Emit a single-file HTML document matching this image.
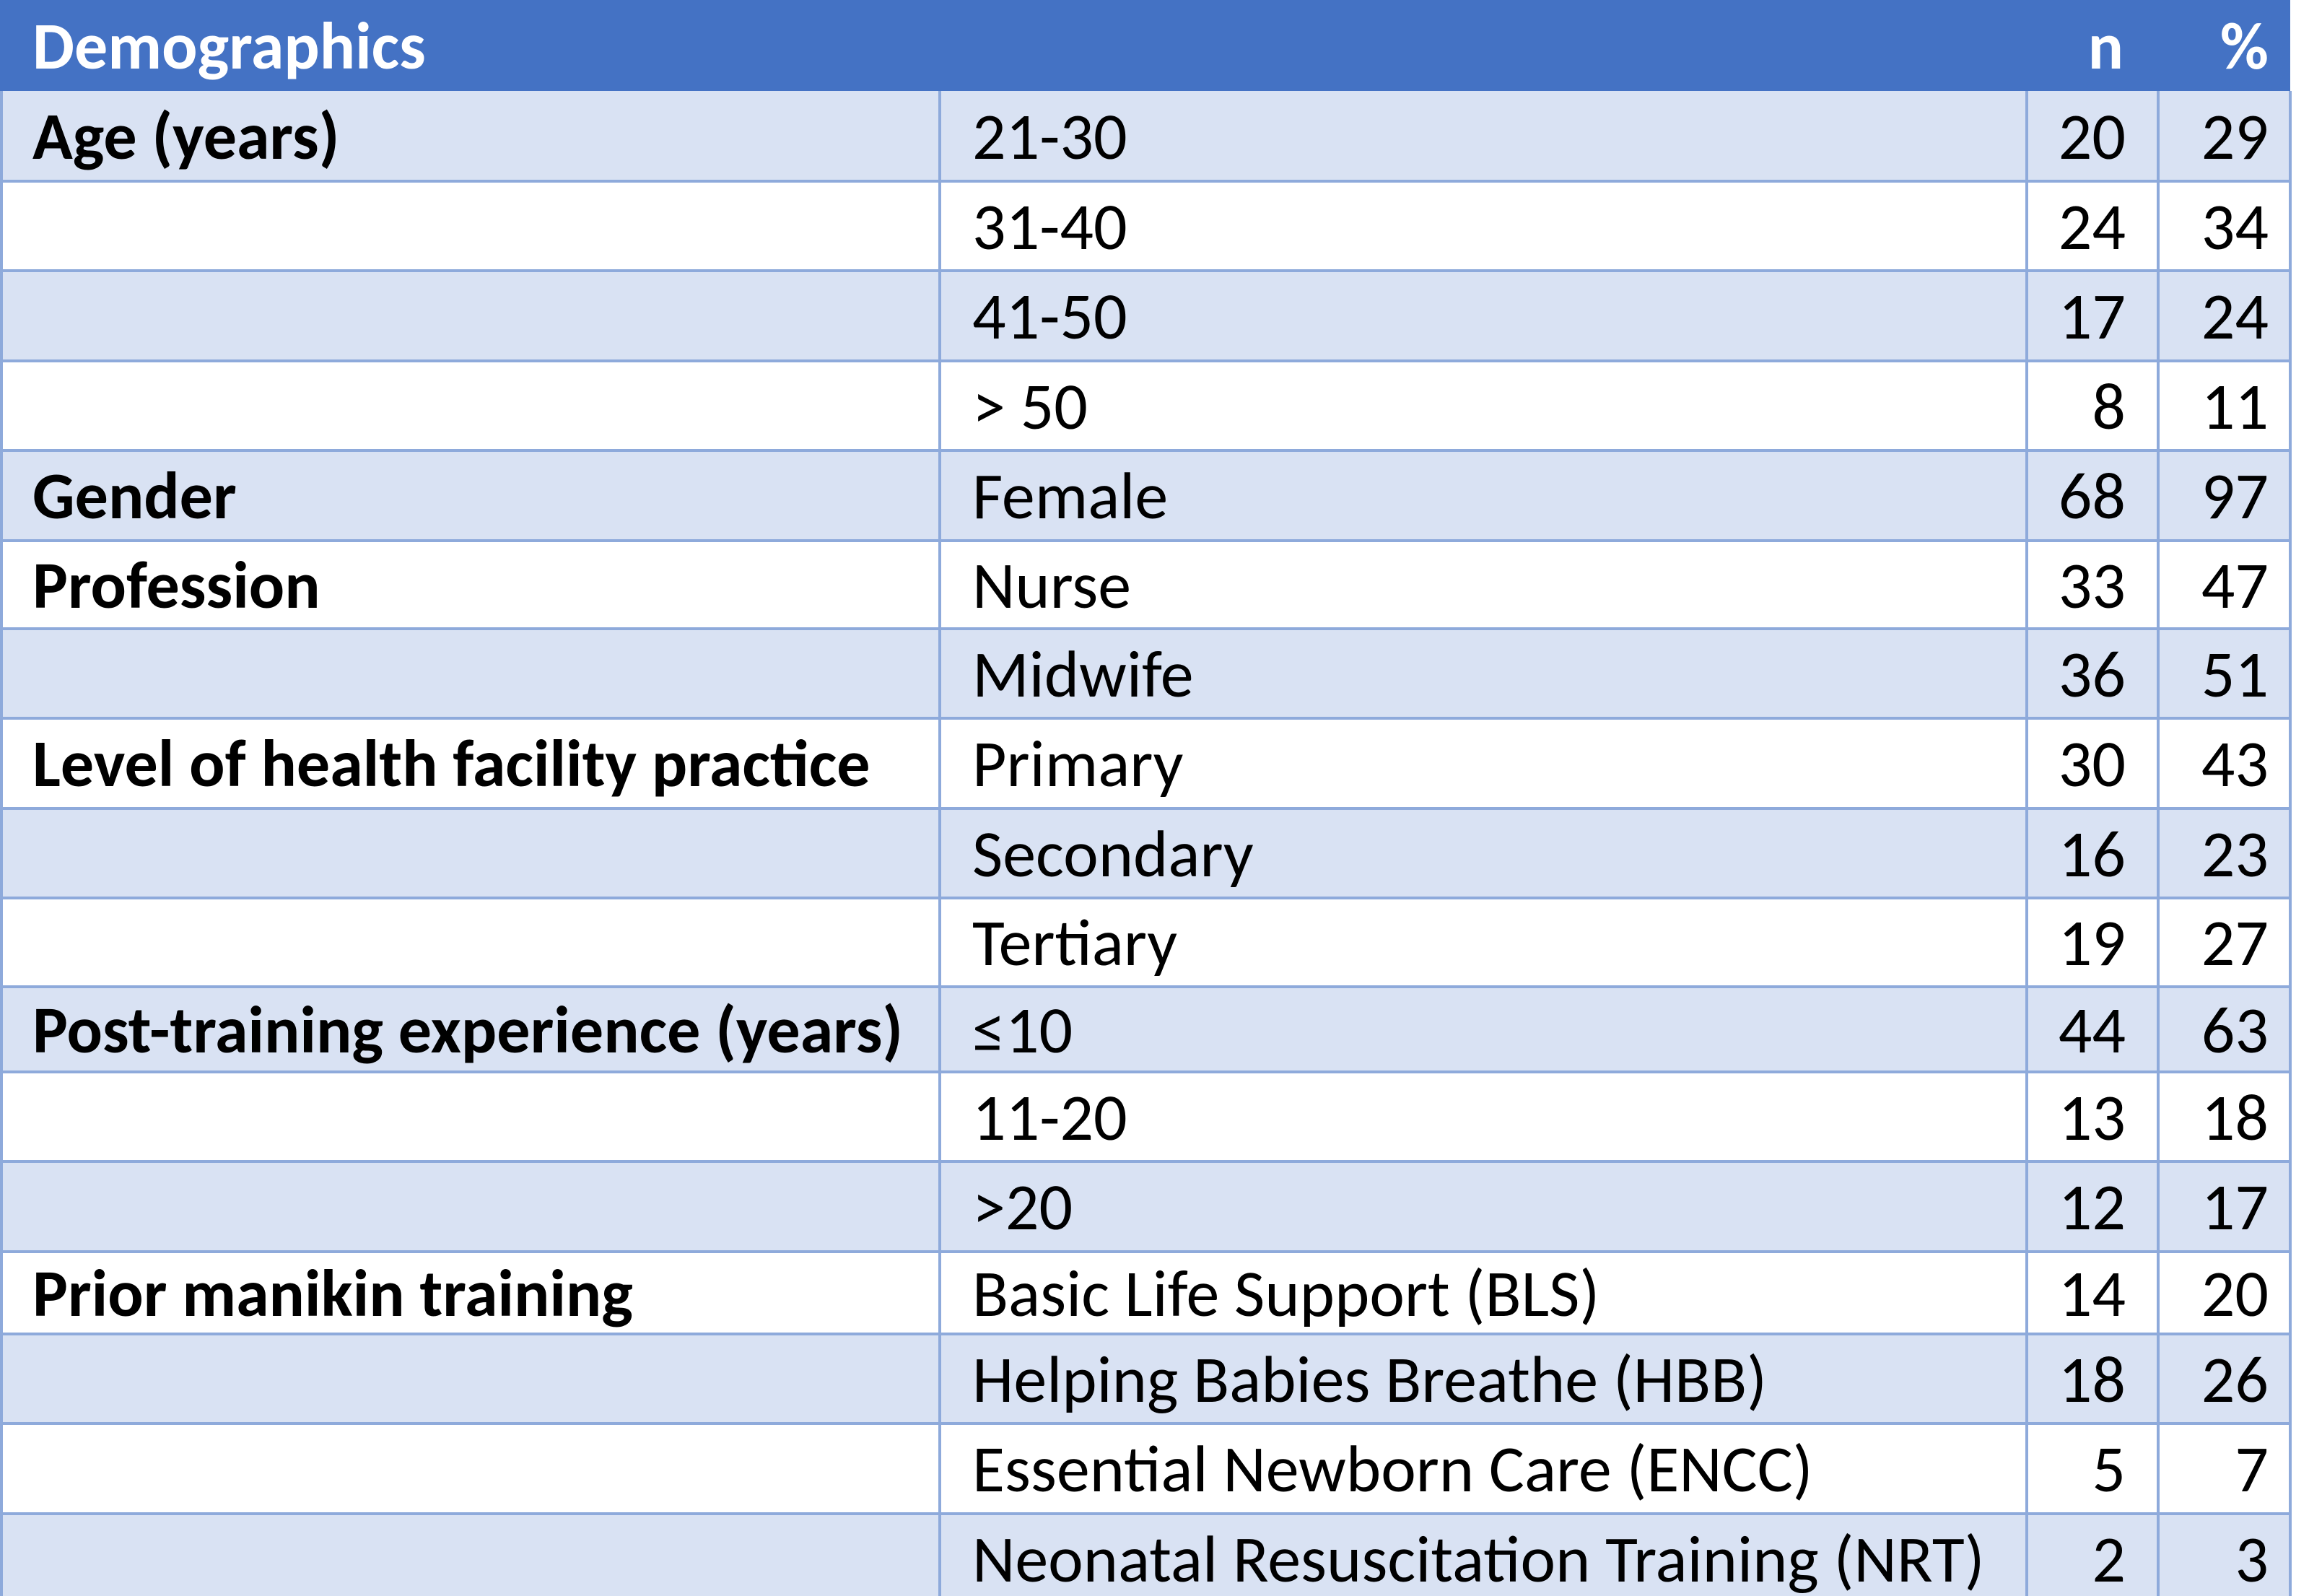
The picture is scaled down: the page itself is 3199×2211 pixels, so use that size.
<!DOCTYPE html>
<html><head><meta charset="utf-8"><style>
html,body{margin:0;padding:0;background:#fff;width:3199px;height:2211px;overflow:hidden;position:relative}
.c{position:absolute;box-sizing:border-box;font-family:"Carlito","Liberation Sans",sans-serif;font-size:92px;color:#000;display:flex;align-items:center;white-space:nowrap}
.b{font-weight:bold}
.hl{position:absolute;background:#8EAADB}
</style></head><body>
<div id="t"></div>
<script>
const headers=["Demographics","","n","%"];
const cats=["Age (years)","","","","Gender","Profession","","Level of health facility practice","","","Post-training experience (years)","","","Prior manikin training","","",""];
const subs=["21-30","31-40","41-50","> 50","Female","Nurse","Midwife","Primary","Secondary","Tertiary","≤10","11-20",">20","Basic Life Support (BLS)","Helping Babies Breathe (HBB)","Essential Newborn Care (ENCC)","Neonatal Resuscitation Training (NRT)"];
const nVals=[20,24,17,8,68,33,36,30,16,19,44,13,12,14,18,5,2];
const pVals=[29,34,24,11,97,47,51,43,23,27,63,18,17,20,26,7,3];
const rowTops=[126,251,375,500,624,749,871,995,1120,1244,1367,1485,1609,1734,1848,1972,2097,2222];
const colX=[0,1302,2808,2990,3173];
const t=document.getElementById('t');
function cell(x,y,w,h,txt,cls,bg,align,pad,name){
  const d=document.createElement('div');
  d.className='c '+cls;
  d.style.left=x+'px';d.style.top=y+'px';d.style.width=w+'px';d.style.height=h+'px';
  d.style.background=bg;
  d.style.justifyContent=align;
  if(align==='flex-start')d.style.paddingLeft=pad+'px';else if(align==='flex-end')d.style.paddingRight=pad+'px';
  d.textContent=txt;
  
  
  t.appendChild(d);return d;
}
cell(0,0,colX[4],126,'', '', '#4472C4','flex-start',0,'header-row');
const h1=cell(0,0,colX[1],126,headers[0],'b','transparent','flex-start',45,'header-demographics');h1.style.color='#fff';
const h3=cell(colX[2],0,colX[3]-colX[2],126,headers[2],'b','transparent','flex-end',48,'header-n');h3.style.color='#fff';
const h4=cell(colX[3],0,colX[4]-colX[3],126,headers[3],'b','transparent','flex-end',30,'header-percent');h4.style.color='#fff';
for(let i=0;i<subs.length;i++){
  const y=rowTops[i],h=rowTops[i+1]-y,bg=i%2===0?'#D9E2F3':'#fff';
  cell(colX[0],y,colX[1]-colX[0],h,cats[i],'b',bg,'flex-start',45,'category-cell');
  cell(colX[1],y,colX[2]-colX[1],h,subs[i],'',bg,'flex-start',45,'subcategory-cell');
  cell(colX[2],y,colX[3]-colX[2],h,String(nVals[i]),'',bg,'flex-end',45,'n-cell');
  cell(colX[3],y,colX[4]-colX[3],h,String(pVals[i]),'',bg,'flex-end',30,'percent-cell');
}
for(let i=1;i<rowTops.length-1;i++){
  const l=document.createElement('div');l.className='hl';
  l.style.left='0px';l.style.top=(rowTops[i]-2)+'px';l.style.width=colX[4]+'px';l.style.height='4px';
  
  
  t.appendChild(l);
}
for(let j=0;j<colX.length;j++){
  const l=document.createElement('div');l.className='hl';
  l.style.left=(j===0?0:colX[j]-2)+'px';l.style.top='126px';l.style.width='4px';l.style.height=(2211-126)+'px';
  
  
  t.appendChild(l);
}
</script>
</body></html>
